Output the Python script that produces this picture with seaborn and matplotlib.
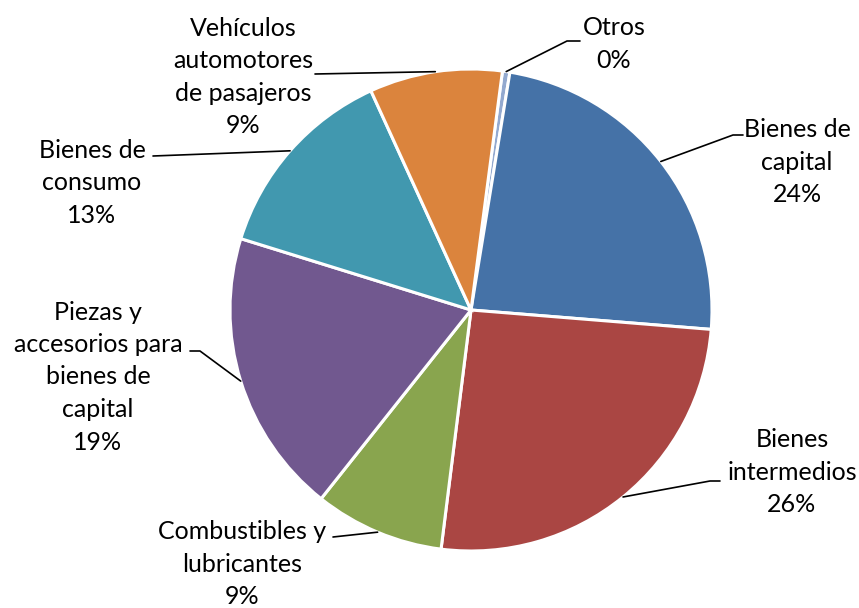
import numpy as np
import matplotlib
matplotlib.use("Agg")
import matplotlib.pyplot as plt
import seaborn as sns

# Datos (participación %, sentido horario desde "Otros")
categorias = ["Otros", "Bienes de\ncapital", "Bienes\nintermedios",
              "Combustibles y\nlubricantes",
              "Piezas y\naccesorios para\nbienes de\ncapital",
              "Bienes de\nconsumo", "Vehículos\nautomotores\nde pasajeros"]
porcentajes = [0.5, 23.7, 25.7, 8.7, 19.1, 13.4, 8.9]
etiquetas_pct = ["0%", "24%", "26%", "9%", "19%", "13%", "9%"]
colores = ["#93A9CF", "#4572A7", "#AA4643", "#89A54E", "#71588F", "#4198AF", "#DB843D"]

sns.set_style("white")
plt.rcParams["font.family"] = ["Lato", "DejaVu Sans"]

W, H = 859, 608
CX, CY, R = 471, 310, 241

# posiciones de etiquetas y guías en pixeles (layout)
texto_px = [(614, 44), (797, 162), (792, 472), (242, 564), (98, 377), (92, 183), (243, 77)]
codo_px = [(567, 41), (733, 135), (710, 481), (333, 537), (200, 351), (153, 156), (315, 74)]
cola_px = [(580, 41), (743, 135), (720, 481), (333, 537), (190, 351), (153, 156), (315, 74)]


def px(p):
    return ((p[0] - CX) / R, (CY - p[1]) / R)


fig = plt.figure(figsize=(W / 100, H / 100), dpi=100)
ax = fig.add_axes([0, 0, 1, 1])
wedges, _ = ax.pie(porcentajes, colors=sns.color_palette(colores), startangle=82.5,
                   counterclock=False, radius=1,
                   wedgeprops=dict(edgecolor="white", linewidth=2.2))
ax.set_xlim(-CX / R, (W - CX) / R)
ax.set_ylim(-(H - CY) / R, CY / R)
ax.set_aspect("equal")
ax.axis("off")

for w, cat, pct, t, c, k in zip(wedges, categorias, etiquetas_pct, texto_px, codo_px, cola_px):
    ang = np.deg2rad((w.theta1 + w.theta2) / 2)
    borde = (np.cos(ang), np.sin(ang))
    c, k = px(c), px(k)
    ax.plot([borde[0], c[0], k[0]], [borde[1], c[1], k[1]], color="black", lw=1.2)
    tx, ty = px(t)
    ax.text(tx, ty, f"{cat}\n{pct}", ha="center", va="center",
            fontsize=18, linespacing=1.5, color="black")

fig.savefig("out.png", dpi=100)
